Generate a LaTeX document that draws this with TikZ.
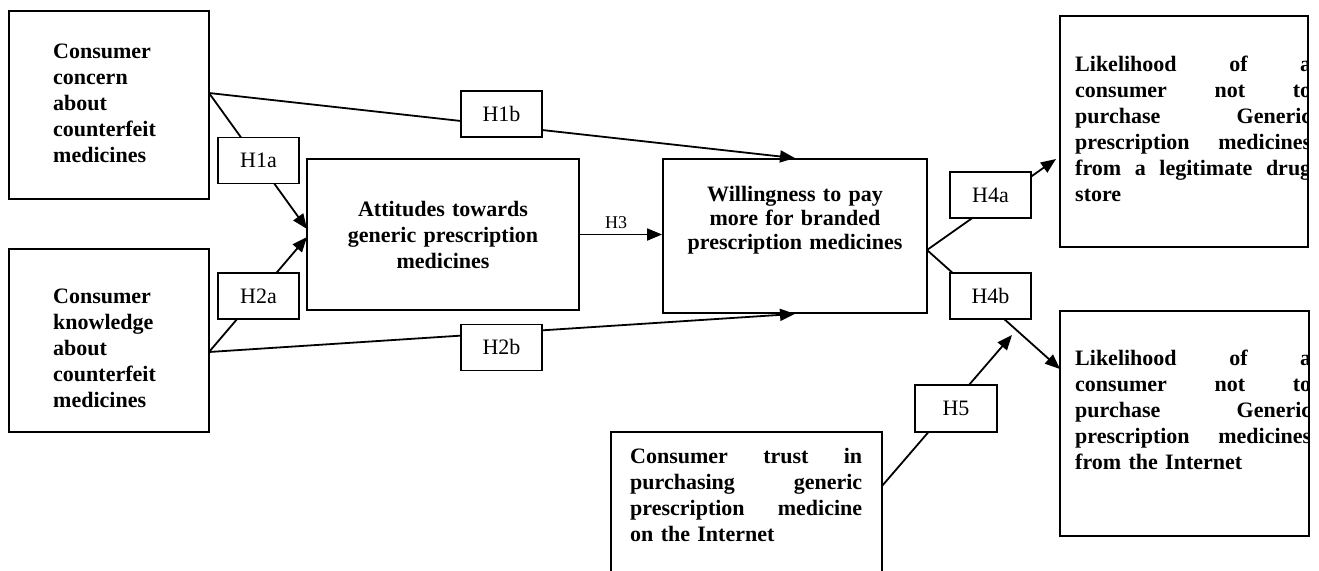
\documentclass[tikz,border=0pt]{standalone}
\usepackage{fontspec}
\setmainfont{Liberation Serif}
\usetikzlibrary{arrows.meta}
\setlength{\parindent}{0pt}
\tolerance=10000
\hbadness=10000
\newcommand{\jline}[2]{\leavevmode\hbox to #1{#2}}
\begin{document}
\begin{tikzpicture}[x=1pt,y=-1pt,
  box/.style 2 args={draw, line width=1.8pt, minimum width=#1, minimum height=#2, inner sep=0pt},
  lab/.style={draw, fill=white, line width=1.8pt, minimum width=81pt, minimum height=46pt, inner sep=0pt,
    font=\fontsize{22}{26}\selectfont, text height=14.6pt, text depth=0pt},
  txt/.style={inner sep=0pt, font=\fontsize{22}{26}\selectfont\bfseries},
  arr/.style={line width=1.8pt, -{Triangle[length=15pt,width=12pt]}}]
\useasboundingbox (0,0) rectangle (1319,570);

% main boxes
\node[box={200pt}{188pt}] (A) at (109,105) {};
\node[box={200pt}{183pt}] (B) at (109,340.5) {};
\node[box={272pt}{151pt}] (C) at (443,234.5) {};
\node[box={264pt}{154pt}] (D) at (795,236) {};
\node[box={248pt}{231pt}] (E) at (1184,131.5) {};
\node[box={249pt}{225pt}] (F) at (1184.5,423.5) {};
\node[box={271pt}{168pt}] (G) at (746.5,516) {};

% texts
\node[txt, text width=120pt, align=left, anchor=north west] (At) at (53,41.3)
  {\rule{0pt}{17pt}Consumer\\concern\\about\\counterfeit\\medicines};
\node[txt, text width=120pt, align=left, anchor=north west] (Bt) at (53,286)
  {\rule{0pt}{17pt}Consumer\\knowledge\\about\\counterfeit\\medicines};
\node[txt, text width=260pt, align=center, anchor=north] (Ct) at (443,199)
  {\rule{0pt}{17pt}Attitudes towards\\generic prescription\\medicines};
\node[txt, font=\fontsize{22}{24.2}\selectfont\bfseries, text width=250pt, align=center, anchor=north] (Dt) at (795,184)
  {\rule{0pt}{17pt}Willingness to pay\\more for branded\\prescription medicines};
\begin{scope}
  \clip (E.north west) rectangle (E.south east);
  \node[txt, text width=236pt, align=left, anchor=north west] (Et) at (1075,54)
    {\rule{0pt}{17pt}\jline{236pt}{Likelihood\hfill of\hfill a}\\\jline{236pt}{consumer\hfill not\hfill to}\\\jline{236pt}{purchase\hfill Generic}\\\jline{236pt}{prescription\hfill medicines}\\\jline{236pt}{from\hfill a\hfill legitimate\hfill drug}\\store};
\end{scope}
\begin{scope}
  \clip (F.north west) rectangle (F.south east);
  \node[txt, text width=236pt, align=left, anchor=north west] (Ft) at (1075,348)
    {\rule{0pt}{17pt}\jline{236pt}{Likelihood\hfill of\hfill a}\\\jline{236pt}{consumer\hfill not\hfill to}\\\jline{236pt}{purchase\hfill Generic}\\\jline{236pt}{prescription\hfill medicines}\\from the Internet};
\end{scope}
\node[txt, text width=232pt, align=left, anchor=north west] (Gt) at (630,446.3)
  {\rule{0pt}{17pt}\jline{232pt}{Consumer\hfill trust\hfill in}\\\jline{232pt}{purchasing\hfill generic}\\\jline{232pt}{prescription\hfill medicine}\\on the Internet};

% connector end points
\coordinate (a1) at (209,93);
\coordinate (b1) at (209,352);
\coordinate (c1) at (307,229);
\coordinate (c2) at (307,237);
\coordinate (d1) at (927,250);
\coordinate (e1) at (1056,159);
\coordinate (f1) at (1060,369);
\coordinate (g1) at (882,486);
\coordinate (h5) at (1012,335);

% connectors
\draw[arr] (a1) -- (D.north);
\draw[arr] (a1) -- (c1);
\draw[arr] (b1) -- (c2);
\draw[arr] (b1) -- (D.south);
\draw[arr] (C.east) -- (C.east -| D.west);
\draw[arr] (d1) -- (e1);
\draw[arr] (d1) -- (f1);
\draw[arr] (g1) -- (h5);

% hypothesis labels
\node[lab] (H1a) at (258.5,160.5) {H1a};
\node[lab] (H2a) at (258.5,296) {H2a};
\node[lab] (H1b) at (501.5,114) {H1b};
\node[lab] (H2b) at (501.5,347.5) {H2b};
\node[lab] (H4a) at (990.5,195) {H4a};
\node[lab] (H4b) at (990.5,296) {H4b};
\node[lab, minimum width=82pt, minimum height=47pt] (H5) at (956,408.5) {H5};
\node[font=\fontsize{18}{22}\selectfont, anchor=base, inner sep=0pt] (H3) at (616,228.3) {H3};
\end{tikzpicture}
\end{document}
